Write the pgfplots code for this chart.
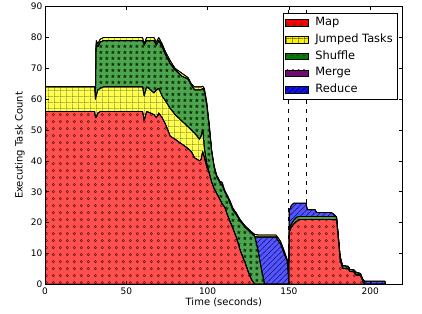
\documentclass[border=0pt]{standalone}
\usepackage{fontspec}
\setmainfont{DejaVu Sans}
\usepackage{pgfplots}
\pgfplotsset{compat=1.18}
\usepackage{pgfplotstable}
\usetikzlibrary{patterns}

\definecolor{mapfill}{RGB}{255,80,80}
\definecolor{jumpfill}{RGB}{255,255,80}
\definecolor{shuffill}{RGB}{77,166,77}
\definecolor{mergefill}{RGB}{166,77,166}
\definecolor{redufill}{RGB}{85,85,255}
\definecolor{mapdot}{RGB}{110,20,20}
\definecolor{jumpline}{RGB}{70,70,30}
\definecolor{shufstar}{RGB}{10,45,10}
\definecolor{reduline}{RGB}{20,20,110}
\definecolor{mergeline}{RGB}{60,10,60}

\pgfdeclarepatternformonly{mycircles}{\pgfpointorigin}{\pgfqpoint{7.3pt}{6.8pt}}{\pgfqpoint{7.3pt}{6.8pt}}{%
  \pgfsetlinewidth{0.55pt}\pgfpathcircle{\pgfqpoint{3.65pt}{3.4pt}}{1.3pt}\pgfusepath{stroke}}
\pgfdeclarepatternformonly{mygrid}{\pgfpointorigin}{\pgfqpoint{6.1pt}{6.1pt}}{\pgfqpoint{6.1pt}{6.1pt}}{%
  \pgfsetlinewidth{0.7pt}%
  \pgfpathmoveto{\pgfqpoint{0pt}{0pt}}\pgfpathlineto{\pgfqpoint{6.1pt}{0pt}}%
  \pgfpathmoveto{\pgfqpoint{0pt}{0pt}}\pgfpathlineto{\pgfqpoint{0pt}{6.1pt}}\pgfusepath{stroke}}
\pgfdeclarepatternformonly{mystars}{\pgfpointorigin}{\pgfqpoint{6.3pt}{6.1pt}}{\pgfqpoint{6.3pt}{6.1pt}}{%
  \pgfpathmoveto{\pgfqpoint{3.15pt}{5.40pt}}%
  \pgfpathlineto{\pgfqpoint{2.562pt}{3.860pt}}%
  \pgfpathlineto{\pgfqpoint{0.867pt}{3.792pt}}%
  \pgfpathlineto{\pgfqpoint{2.199pt}{2.747pt}}%
  \pgfpathlineto{\pgfqpoint{1.740pt}{1.108pt}}%
  \pgfpathlineto{\pgfqpoint{3.15pt}{2.050pt}}%
  \pgfpathlineto{\pgfqpoint{4.560pt}{1.108pt}}%
  \pgfpathlineto{\pgfqpoint{4.101pt}{2.747pt}}%
  \pgfpathlineto{\pgfqpoint{5.433pt}{3.792pt}}%
  \pgfpathlineto{\pgfqpoint{3.738pt}{3.860pt}}%
  \pgfpathclose\pgfusepath{fill}}
\pgfdeclarepatternformonly{myne}{\pgfqpoint{-1pt}{-1pt}}{\pgfqpoint{6.5pt}{6.5pt}}{\pgfqpoint{5.5pt}{5.5pt}}{%
  \pgfsetlinewidth{0.5pt}%
  \pgfpathmoveto{\pgfqpoint{-0.5pt}{-0.5pt}}\pgfpathlineto{\pgfqpoint{6pt}{6pt}}\pgfusepath{stroke}}

\pgfplotstableread{
x     map   jump  shuf  redu  jtop
0     56    8     0     0     0
30.5  56    8     0     0     0
31    54    6     0     0     0
31.5  54    7     17    0     1
32.5  55.5  7.5   14    0     1
34    56    7.5   15    0     1
36    56    8     15    0     1
60    56    8     15    0     1
61    53    8     16.5  0     0.5
62.5  56    8     15    0     1
65    55.5  7.5   16    0     1
67    55    7     17    0     1
68.5  54    9     14.5  0     1
70    55.5  8     15.5  0     1
72    54    7     16    0     1
74    52    7.5   15    0     1
77    48    9     14.5  0     1
80    47    8     14.5  0     0.5
84    45.5  7.5   14.5  0     1
88    44    7     15.5  0     0.5
90    43    7     14.5  0     0.5
92    41    8     14    0     1
95    40    7     16    0     1
96    40.5  7.5   15    0     1
97    43    7     13.5  0     0.7
98    41    3     18.5  0     1
99.5  38    1     19    0     1
101   36    0     15    0     1
102.5 33    0     10    0     0.5
104   31    0     7     0     0.5
105.5 29.5  0     5.5   0     0.5
107.5 27.5  0     5.5   0     0.5
109   26    0     6     0     1
110.5 25    0     5     0     0.5
112.5 22    0     6     0     0.5
114   20    0     6     0     0.8
115.6 18    0     6     0     0.7
117.8 15    0     7.5   0     0.5
120   11    0     9.5   0     0.5
123   7     0     11.5  0     0.5
125   4     0     13.5  0     0.5
127   1.5   0     15    0     0.5
129   0     0     15.5  0     0.7
131   0     0     11    4.3   0.7
133   0     0     5     10.3  0.7
135   0     0     0     15.3  0.7
142   0     0     0     15.3  0.7
143.5 0     0     0     14    1
145   0     0     0     13    0.8
147   0     0     0     10    1
149   0     0     0     7.5   0.5
150   0     0     0     0     0
150.3 17    0     1     6     0
151.5 18.5  0     1     6     0
153   19.5  0     1.3   5.5   0
155   20.5  0     1.3   4.5   0
157   21    0     1     4.3   0
160.5 21    0     1     4.3   0
161.3 21    0     1     2.2   0
166   21    0     1     2.2   0
167   21    0     1     1.3   0
176   21    0     1     1.3   0
178   21    0     1     0.5   0
179.3 20.8  0     1     0     0
180.5 14    0     1     0     0
181.5 8     0     1     0     0
183   5.2   0     0.8   0     0
186.5 5     0     0.8   0     0
187.5 4.2   0     0.6   0     0
190   4     0     0.6   0     0
191.5 3     0     0.8   0     0
194   2.8   0     0.7   0     0
195.5 1     0     0.5   0     0
196.5 0     0     0     1     0
209   0     0     0     1     0
209.5 0     0     0     0     0
}\datatable

\newcommand{\legrect}[2]{\draw[black, line width=0.6pt, fill=#1, postaction={pattern=#2, pattern color=black!75}] (0pt,-3.3pt) rectangle (23pt,3.3pt);}

\pgfplotsset{
  outl/.style={draw=black, line width=0.8pt, line join=round},
  mapst/.style={outl, fill=mapfill, postaction={pattern=mycircles, pattern color=mapdot},
    legend image code/.code={\legrect{red}{mycircles}}},
  jumpst/.style={outl, fill=jumpfill, postaction={pattern=mygrid, pattern color=jumpline},
    legend image code/.code={\legrect{yellow}{mygrid}}},
  shufst/.style={outl, fill=shuffill, postaction={pattern=mystars, pattern color=shufstar},
    legend image code/.code={\legrect{{rgb,255:red,0;green,128;blue,0}}{mystars}}},
  mergest/.style={outl, fill=mergefill, postaction={pattern=myne, pattern color=mergeline},
    legend image code/.code={\legrect{{rgb,255:red,128;green,0;blue,128}}{myne}}},
  redust/.style={outl, fill=redufill, postaction={pattern=myne, pattern color=reduline},
    legend image code/.code={\legrect{blue}{myne}}},
}

\begin{document}
\begin{tikzpicture}
\begin{axis}[
  scale only axis,
  width=357.7pt, height=277.6pt,
  xmin=0, xmax=220, ymin=0, ymax=90,
  xtick={0,50,100,150,200},
  ytick={0,10,...,90},
  stack plots=y,
  axis on top,
  axis line style={line width=0.8pt},
  tick align=inside,
  major tick length=3.5pt,
  tick style={line width=0.6pt, black},
  /pgf/number format/assume math mode=true,
  tick label style={font=\fontsize{9}{10}\selectfont},
  xticklabel style={inner sep=0pt, yshift=-3.5pt},
  yticklabel style={inner sep=0pt, xshift=-2.5pt},
  xlabel={Time (seconds)},
  ylabel={Executing Task Count},
  label style={font=\fontsize{9}{10}\selectfont},
  every axis x label/.style={at={(axis description cs:0.5,-0.049)}, anchor=north, inner sep=0pt},
  every axis y label/.style={at={(axis description cs:-0.0559,0.5)}, anchor=south, rotate=90, inner sep=0pt},
  legend style={at={(axis description cs:1,1)}, anchor=north east, xshift=-5.4pt, yshift=-6pt,
    draw=black, line width=0.6pt, fill=white, font=\fontsize{11.4}{13}\selectfont,
    nodes={text height=8.2pt, text depth=2.6pt, inner sep=3pt}, row sep=0pt, inner sep=1.3pt,
    /tikz/every odd column/.append style={column sep=4pt}},
  legend cell align=left,
]
\addplot[mapst] table[x=x, y=map] {\datatable} \closedcycle;
\addlegendentry{Map}
\addplot[jumpst] table[x=x, y=jump] {\datatable} \closedcycle;
\addlegendentry{Jumped Tasks}
\addplot[shufst] table[x=x, y=shuf] {\datatable} \closedcycle;
\addlegendentry{Shuffle}
\addlegendimage{mergest}
\addlegendentry{Merge}
\addplot[redust] table[x=x, y=redu] {\datatable} \closedcycle;
\addlegendentry{Reduce}
\addplot[jumpst] table[x=x, y=jtop] {\datatable} \closedcycle;
\addplot[black, line width=0.8pt, dash pattern=on 4pt off 5pt, stack plots=false] coordinates {(150,0) (150,90)};
\addplot[black, line width=0.8pt, dash pattern=on 4pt off 5pt, stack plots=false] coordinates {(161,0) (161,90)};
\coordinate (sw) at (rel axis cs:0,0);
\coordinate (ne) at (rel axis cs:1,1);
\end{axis}
\path ([shift={(-45pt,-28.7pt)}]sw) rectangle ([shift={(19.3pt,6.7pt)}]ne);
\end{tikzpicture}
\end{document}
